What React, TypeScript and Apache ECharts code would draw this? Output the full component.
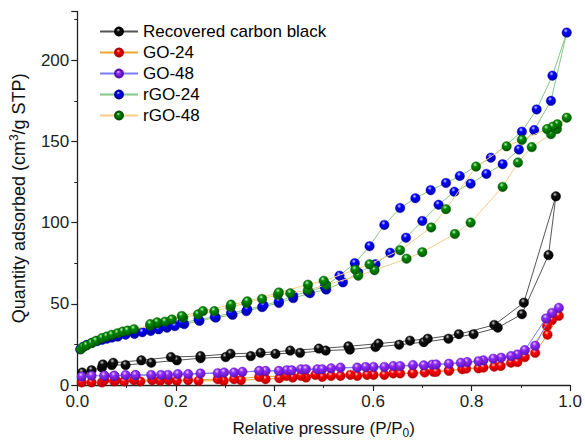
import React, { useEffect, useRef } from "react";
import * as echarts from "echarts";

const seriesNames = ["Recovered carbon black", "GO-24", "GO-48", "rGO-24", "rGO-48"];
const xTickLabels = ["0.0", "0.2", "0.4", "0.6", "0.8", "1.0"];

// Recovered carbon black
const cbAds = [
  [0.01, 7.7], [0.029, 9.1], [0.05, 10.7], [0.07, 12.3], [0.098, 12.3], [0.15, 13.7], [0.202, 15.2],
  [0.25, 16.5], [0.301, 17.2], [0.352, 17.8], [0.402, 19.2], [0.452, 19.8], [0.504, 21.2], [0.553, 21.8],
  [0.605, 23.4], [0.653, 24.8], [0.703, 26.4], [0.753, 28.5], [0.804, 31.3], [0.853, 35.3], [0.902, 43.6],
  [0.956, 80], [0.971, 116.2],
];
const cbDes = [
  [0.906, 50.7], [0.846, 37], [0.774, 31.3], [0.711, 28.5], [0.675, 27.3], [0.611, 25.5], [0.55, 23.8],
  [0.49, 22.4], [0.432, 21.2], [0.372, 19.8], [0.311, 19.2], [0.25, 17.8], [0.19, 17.2], [0.13, 15.2],
  [0.073, 13.7], [0.052, 12.7],
];

// GO-24
const go24Ads = [
  [0.009, 1.6], [0.029, 1.6], [0.05, 1.6], [0.075, 2.2], [0.095, 2.2], [0.128, 2.2], [0.168, 2.6],
  [0.202, 2.6], [0.246, 2.6], [0.297, 2.6], [0.332, 3.0], [0.382, 3.6], [0.41, 4.2], [0.437, 4.6],
  [0.464, 4.6], [0.497, 5.0], [0.534, 5.6], [0.568, 5.6], [0.601, 6.2], [0.641, 7.1], [0.68, 7.1],
  [0.723, 8.1], [0.754, 9.1], [0.781, 9.7], [0.814, 10.3], [0.846, 11.3], [0.88, 13.7], [0.929, 19.8],
  [0.954, 31], [0.977, 42.6],
];
const go24Des = [
  [0.963, 40], [0.953, 36.4], [0.908, 17.2], [0.893, 14.1], [0.859, 11.7], [0.824, 10.7], [0.789, 10.1],
  [0.754, 8.7], [0.728, 8.1], [0.705, 7.7], [0.681, 7.3], [0.655, 7.1], [0.623, 6.2], [0.588, 6.2],
  [0.554, 6.2], [0.515, 5.6], [0.483, 6.2], [0.454, 5.6], [0.424, 5.6], [0.369, 5.0], [0.318, 3.6],
  [0.285, 3.6], [0.225, 3.0], [0.185, 3.0], [0.152, 3.0], [0.115, 3.0], [0.078, 3.0], [0.055, 3.0],
];

// GO-48
const go48Ads = [
  [0.009, 5.2], [0.029, 5.7], [0.055, 5.7], [0.075, 5.7], [0.098, 6.1], [0.118, 6.1], [0.15, 6.2],
  [0.184, 6.2], [0.225, 6.7], [0.285, 7.3], [0.335, 8.1], [0.382, 8.7], [0.425, 9.1], [0.454, 9.7],
  [0.487, 9.7], [0.515, 10.3], [0.568, 10.7], [0.601, 11.1], [0.641, 11.7], [0.681, 12.3], [0.72, 12.5],
  [0.754, 13.1], [0.791, 14.1], [0.824, 15.2], [0.86, 16.8], [0.893, 18.8], [0.929, 24.2], [0.963, 44.4],
  [0.977, 47.5],
];
const go48Des = [
  [0.951, 41], [0.908, 21.5], [0.88, 17.8], [0.844, 16.2], [0.814, 14.7], [0.778, 13.7], [0.728, 12.7],
  [0.703, 12.1], [0.655, 11.7], [0.623, 11.1], [0.585, 11.1], [0.534, 10.7], [0.497, 9.7], [0.464, 9.7],
  [0.435, 9.1], [0.409, 8.7], [0.369, 8.7], [0.318, 7.7], [0.298, 7.7], [0.25, 7.1], [0.204, 6.7],
  [0.17, 6.2], [0.118, 6.1], [0.075, 5.7], [0.055, 5.7],
];

// rGO-24
const rgo24Ads = [
  [0.006, 22], [0.012, 23.5], [0.02, 24.8], [0.03, 26], [0.04, 27], [0.05, 27.8], [0.06, 28.5],
  [0.07, 29.2], [0.082, 29.8], [0.098, 31], [0.116, 31.5], [0.132, 32.5], [0.149, 33.3], [0.165, 34.3],
  [0.182, 35.3], [0.198, 36.3], [0.217, 37.5], [0.248, 39.5], [0.281, 41.5], [0.315, 43.2], [0.343, 45.5],
  [0.375, 48], [0.409, 50.5], [0.438, 53.5], [0.472, 56.5], [0.505, 58.8], [0.539, 63.2], [0.57, 69.3],
  [0.605, 74.4], [0.635, 81.4], [0.667, 90.7], [0.7, 101], [0.733, 111], [0.765, 119], [0.798, 124],
  [0.83, 130], [0.863, 136], [0.896, 145], [0.927, 157], [0.961, 175], [0.993, 217],
];
const rgo24Des = [
  [0.964, 190.5], [0.932, 169.7], [0.902, 156], [0.839, 140], [0.776, 128.7], [0.748, 124.4],
  [0.717, 120], [0.686, 115], [0.655, 109], [0.623, 98.6], [0.593, 85.5], [0.563, 75], [0.532, 67.3],
  [0.502, 60.5], [0.468, 57.5], [0.438, 55], [0.409, 51.5], [0.378, 49], [0.345, 46.5], [0.312, 44.2],
  [0.279, 42], [0.246, 40.3], [0.212, 38.3], [0.179, 36.3], [0.149, 34.3], [0.116, 32.5], [0.082, 30.3],
];

// rGO-48
const rgo48Ads = [
  [0.007, 22], [0.012, 23.4], [0.019, 24.4], [0.029, 25.8], [0.038, 27.2], [0.05, 28.9], [0.06, 29.9],
  [0.07, 30.9], [0.082, 31.9], [0.092, 32.9], [0.102, 33.5], [0.115, 34.4], [0.148, 36.5], [0.162, 38],
  [0.178, 39], [0.192, 40.4], [0.215, 41.5], [0.245, 43.5], [0.278, 45.5], [0.311, 48], [0.343, 50.5],
  [0.375, 53], [0.407, 55.5], [0.432, 56.5], [0.468, 58.5], [0.505, 61.6], [0.57, 67.3], [0.603, 70.7],
  [0.668, 77.8], [0.7, 81.8], [0.766, 93], [0.798, 100], [0.863, 122], [0.894, 137], [0.922, 146.5],
  [0.961, 154.5], [0.973, 157.6], [0.993, 164.6],
];
const rgo48Des = [
  [0.974, 160.6], [0.964, 159], [0.953, 157.6], [0.902, 151], [0.871, 147], [0.809, 134.5],
  [0.748, 108.3], [0.718, 97], [0.655, 83], [0.593, 74.3], [0.564, 71], [0.5, 64.2], [0.468, 61.8],
  [0.409, 57], [0.345, 51.5], [0.312, 49.5], [0.255, 45.5], [0.212, 42.5], [0.162, 38.6], [0.148, 37.5],
];

const allData = [
  [...cbAds, ...cbDes],
  [...go24Ads, ...go24Des],
  [...go48Ads, ...go48Des],
  [...rgo24Ads, ...rgo24Des],
  [...rgo48Ads, ...rgo48Des],
];

const lineColors = ["#555555", "#f0a830", "#7a7aff", "#86c886", "#f5cd85"];
const markerBase = ["#111111", "#ff0000", "#8f2cff", "#0000ff", "#008a00"];
const markerDark = ["#000000", "#b00000", "#5a10b0", "#0000a0", "#005200"];
const markerLight = ["#d0d0d0", "#ffd0d0", "#e8d0ff", "#d0d0ff", "#c8f0c8"];

const FONT = 'Arial, "Liberation Sans", sans-serif';

function sphere(i: number) {
  return {
    type: "radial",
    x: 0.4,
    y: 0.3,
    r: 0.75,
    colorStops: [
      { offset: 0, color: markerLight[i] },
      { offset: 0.3, color: markerBase[i] },
      { offset: 1, color: markerDark[i] },
    ],
  };
}

export default function App() {
  const ref = useRef<HTMLDivElement>(null);
  useEffect(() => {
    if (!ref.current) return;
    const chart = echarts.init(ref.current, undefined, { renderer: "svg" });
    const option: any = {
      animation: false,
      backgroundColor: "#ffffff",
      grid: { left: 72, right: 12, top: 11.5, bottom: 52, containLabel: false },
      legend: {
        orient: "vertical",
        left: 94,
        top: 18,
        itemWidth: 38,
        itemHeight: 10,
        itemGap: 4,
        data: seriesNames,
        textStyle: { fontSize: 17, color: "#000", fontFamily: FONT, lineHeight: 17 },
      },
      xAxis: {
        type: "value",
        min: 0,
        max: 1,
        interval: 0.2,
        name: "Relative pressure (P/P{sub|0})",
        nameLocation: "middle",
        nameGap: 33,
        nameTextStyle: {
          fontSize: 17,
          color: "#111",
          fontFamily: FONT,
          lineHeight: 21,
          rich: { sub: { fontSize: 12, verticalAlign: "bottom", lineHeight: 12, fontFamily: FONT, color: "#111" } },
        },
        axisLine: { show: true, lineStyle: { color: "#222", width: 1.3 } },
        axisTick: { show: true, length: 6, lineStyle: { color: "#222", width: 1.2 } },
        minorTick: { show: true, splitNumber: 2, length: 3, lineStyle: { color: "#222", width: 1 } },
        splitLine: { show: false },
        axisLabel: {
          fontSize: 17,
          color: "#222",
          fontFamily: FONT,
          margin: 8,
          formatter: (v: number) => xTickLabels[Math.round(v / 0.2)] ?? v.toFixed(1),
        },
      },
      yAxis: {
        type: "value",
        min: 0,
        max: 230,
        interval: 50,
        name: "Quantity adsorbed (cm{sup|3}/g STP)",
        nameLocation: "middle",
        nameGap: 42,
        nameTextStyle: {
          fontSize: 18,
          color: "#111",
          fontFamily: FONT,
          lineHeight: 22,
          rich: { sup: { fontSize: 12, verticalAlign: "top", lineHeight: 12, fontFamily: FONT, color: "#111" } },
        },
        axisLine: { show: true, lineStyle: { color: "#222", width: 1.3 } },
        axisTick: { show: true, length: 6, lineStyle: { color: "#222", width: 1.2 } },
        minorTick: { show: true, splitNumber: 2, length: 3, lineStyle: { color: "#222", width: 1 } },
        splitLine: { show: false },
        axisLabel: { fontSize: 17, color: "#222", fontFamily: FONT, margin: 8, showMaxLabel: false },
      },
      series: seriesNames.map((name, i) => ({
        name,
        type: "line",
        data: allData[i],
        symbol: "circle",
        symbolSize: 9.5,
        showSymbol: true,
        lineStyle: { color: lineColors[i], width: 1 },
        itemStyle: { color: sphere(i), borderColor: markerDark[i], borderWidth: 0.4 },
        z: 2 + i,
      })),
    };
    chart.setOption(option);
    return () => chart.dispose();
  }, []);
  return <div ref={ref} style={{ width: 585, height: 444, position: "absolute", left: 0, top: 0 }} />;
}
